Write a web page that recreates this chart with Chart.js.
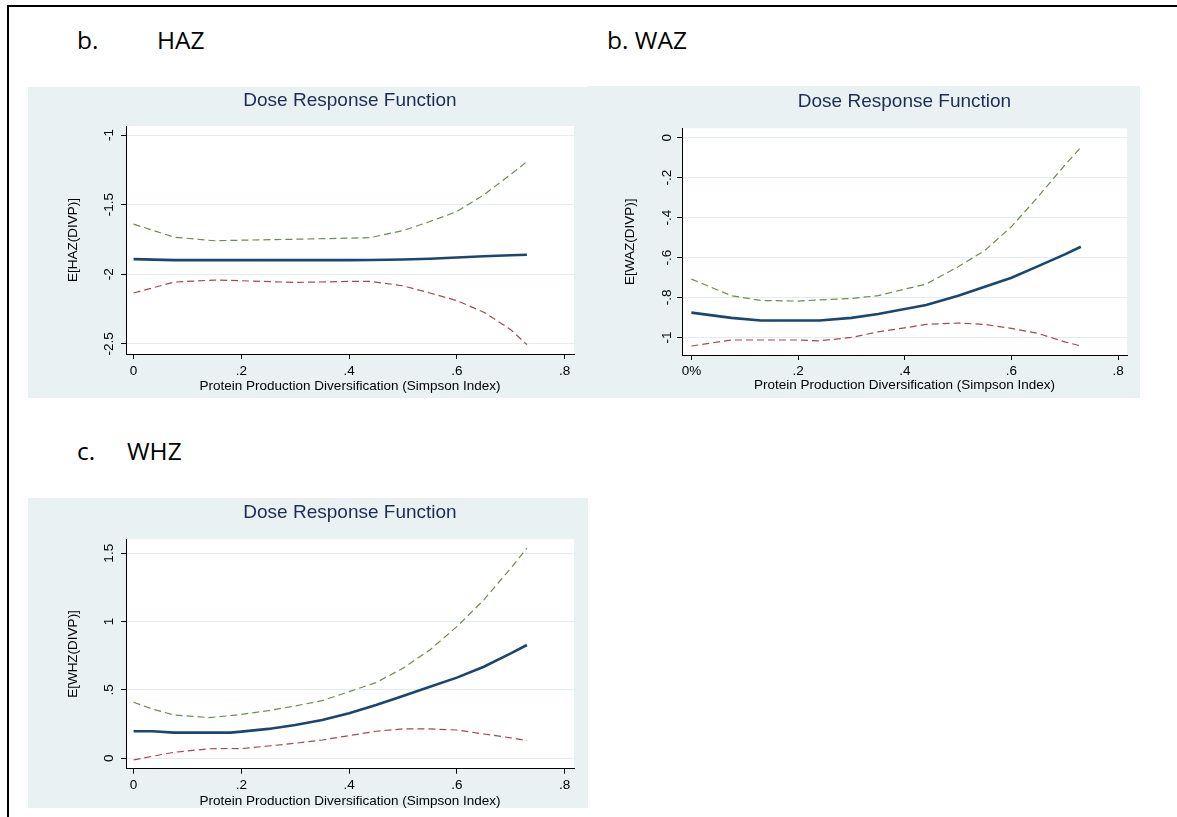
<!DOCTYPE html>
<html>
<head>
<meta charset="utf-8">
<script src="https://cdn.jsdelivr.net/npm/chart.js@4.4.1/dist/chart.umd.min.js"></script>
<style>
  body { margin: 0; background: #fff; width: 1177px; height: 817px; overflow: hidden; position: relative; }
  #frame { position: absolute; left: 7px; top: 5px; width: 1175px; height: 820px; border-top: 2px solid #000; border-left: 2px solid #000; }
  .head { position: absolute; font-family: "Open Sans", sans-serif; font-size: 24.5px; line-height: 24px; color: #000; white-space: nowrap; }
  .panel { position: absolute; background: #e9f1f3; }
</style>
</head>
<body>
<div id="frame"></div>
<div class="head" style="left:77px;top:28px">b.</div>
<div class="head" style="left:157px;top:28px">HAZ</div>
<div class="head" style="left:607px;top:28px">b. WAZ</div>
<div class="head" style="left:77px;top:439px">c.</div>
<div class="head" style="left:127px;top:439px">WHZ</div>

<div class="panel" style="left:28px;top:87px;width:559px;height:311px"><canvas id="haz" width="559" height="311"></canvas></div>
<div class="panel" style="left:587px;top:86px;width:553px;height:312px"><canvas id="waz" width="553" height="312"></canvas></div>
<div class="panel" style="left:28px;top:498px;width:560px;height:310px"><canvas id="whz" width="560" height="310"></canvas></div>

<script>
// HAZ
var hazX     = [0, 0.075, 0.15, 0.2, 0.3, 0.4, 0.44, 0.5, 0.55, 0.6, 0.65, 0.7, 0.73];
var hazDrf   = [-1.891, -1.898, -1.898, -1.898, -1.898, -1.898, -1.897, -1.893, -1.888, -1.879, -1.870, -1.863, -1.859];
var hazUpper = [-1.640, -1.733, -1.759, -1.755, -1.748, -1.740, -1.736, -1.686, -1.621, -1.549, -1.430, -1.282, -1.191];
var hazLower = [-2.134, -2.056, -2.041, -2.046, -2.058, -2.051, -2.051, -2.082, -2.134, -2.189, -2.272, -2.397, -2.505];
var hazYTicks = [-2.5, -2, -1.5, -1];
var hazYLabels = ["-2.5", "-2", "-1.5", "-1"];

// WAZ
var wazX     = [0, 0.075, 0.13, 0.2, 0.24, 0.3, 0.35, 0.4, 0.44, 0.5, 0.55, 0.6, 0.65, 0.7, 0.73];
var wazDrf   = [-0.876, -0.902, -0.915, -0.915, -0.915, -0.902, -0.883, -0.858, -0.838, -0.791, -0.746, -0.701, -0.643, -0.584, -0.546];
var wazUpper = [-0.708, -0.791, -0.815, -0.818, -0.812, -0.805, -0.791, -0.758, -0.733, -0.646, -0.565, -0.445, -0.295, -0.137, -0.048];
var wazLower = [-1.043, -1.013, -1.013, -1.013, -1.017, -1.000, -0.972, -0.952, -0.935, -0.928, -0.935, -0.955, -0.980, -1.022, -1.043];
var wazYTicks = [-1, -0.8, -0.6, -0.4, -0.2, 0];
var wazYLabels = ["-1", "-.8", "-.6", "-.4", "-.2", "0"];

// WHZ
var whzX     = [0, 0.035, 0.075, 0.14, 0.18, 0.2, 0.25, 0.3, 0.35, 0.4, 0.45, 0.5, 0.55, 0.6, 0.65, 0.7, 0.73];
var whzDrf   = [0.198, 0.198, 0.188, 0.188, 0.188, 0.195, 0.215, 0.244, 0.280, 0.329, 0.390, 0.456, 0.524, 0.590, 0.670, 0.768, 0.829];
var whzUpper = [0.410, 0.360, 0.317, 0.298, 0.312, 0.322, 0.349, 0.383, 0.422, 0.488, 0.554, 0.659, 0.793, 0.963, 1.159, 1.390, 1.537];
var whzLower = [-0.012, 0.015, 0.044, 0.070, 0.072, 0.071, 0.090, 0.110, 0.134, 0.166, 0.198, 0.215, 0.215, 0.207, 0.178, 0.150, 0.129];
var whzYTicks = [0, 0.5, 1, 1.5];
var whzYLabels = ["0", ".5", "1", "1.5"];

var xTicks = [0, 0.2, 0.4, 0.6, 0.8];
var xLabels = ["0", ".2", ".4", ".6", ".8"];
var xLabelsPct = ["0%", ".2", ".4", ".6", ".8"];

var FONT = "'Liberation Sans', Arial, sans-serif";
var xTitle = "Protein Production Diversification (Simpson Index)";

function pts(xs, ys) {
  return xs.map(function (x, i) { return { x: x, y: ys[i] }; });
}

var whiteArea = {
  id: 'whiteArea',
  beforeDraw: function (chart) {
    var a = chart.chartArea, ctx = chart.ctx;
    ctx.save();
    ctx.fillStyle = '#ffffff';
    ctx.fillRect(a.left, a.top, a.right - a.left, a.bottom - a.top);
    ctx.restore();
  }
};

function drf(id, o) {
  new Chart(document.getElementById(id), {
    type: 'line',
    data: {
      datasets: [
        { data: pts(o.x, o.upper), borderColor: '#6e8c4c', borderWidth: 1.2, borderDash: [7, 4] },
        { data: pts(o.x, o.lower), borderColor: '#a8474f', borderWidth: 1.2, borderDash: [7, 4] },
        { data: pts(o.x, o.drf), borderColor: '#1a476f', borderWidth: 2.6 }
      ]
    },
    options: {
      responsive: false,
      animation: false,
      events: [],
      elements: { point: { radius: 0 }, line: { tension: 0 } },
      layout: { padding: { left: 0, right: o.padRight, top: 0, bottom: 0 } },
      plugins: {
        legend: { display: false },
        tooltip: { enabled: false },
        title: {
          display: true,
          text: 'Dose Response Function',
          fullSize: false,
          color: '#1c2d55',
          font: { family: FONT, size: 19, weight: 'normal', lineHeight: 1.2 },
          padding: { top: o.titleTop, bottom: o.titleBottom }
        }
      },
      scales: {
        x: {
          type: 'linear',
          min: o.xMin, max: o.xMax,
          afterFit: function (s) { s.height = o.xAxisH; },
          afterBuildTicks: function (s) { s.ticks = xTicks.map(function (v) { return { value: v }; }); },
          ticks: {
            color: '#000', padding: o.xTickPad, maxRotation: 0,
            font: { family: FONT, size: 13.5 },
            callback: function (v, i) { return o.xLabels[i]; }
          },
          grid: { drawOnChartArea: false, tickLength: 5, tickColor: '#000', tickWidth: 1 },
          border: { display: true, color: '#000', width: 1 },
          title: {
            display: true, text: xTitle, color: '#000',
            font: { family: FONT, size: 13.5, lineHeight: 1.2 },
            padding: { top: 0, bottom: o.xTitlePad }
          }
        },
        y: {
          type: 'linear',
          min: o.yMin, max: o.yMax,
          afterFit: function (s) { s.width = o.yAxisW; },
          afterBuildTicks: function (s) { s.ticks = o.yTicks.map(function (v) { return { value: v }; }); },
          ticks: {
            color: '#000', padding: o.yTickPad, minRotation: 90, maxRotation: 90, crossAlign: 'center',
            font: { family: FONT, size: 13.5 },
            callback: function (v, i) { return o.yLabels[i]; }
          },
          grid: { color: '#e3edf0', lineWidth: 1, tickLength: 5, tickColor: '#000', tickWidth: 1 },
          border: { display: true, color: '#000', width: 1 },
          title: {
            display: true, text: o.yTitle, color: '#000',
            font: { family: FONT, size: 13.5, lineHeight: 1.2 },
            padding: { top: o.yTitlePad, bottom: 0 }
          }
        }
      }
    },
    plugins: [whiteArea]
  });
}

drf('haz', {
  x: hazX, drf: hazDrf, upper: hazUpper, lower: hazLower,
  yTicks: hazYTicks, yLabels: hazYLabels, xLabels: xLabels, yTitle: 'E[HAZ(DIVP)]',
  xMin: -0.0141, xMax: 0.8174, yMin: -2.572, yMax: -0.935,
  padRight: 13, yAxisW: 98, xAxisH: 44,
  titleTop: 2.3, titleBottom: 13.9, xTickPad: 3.9, xTitlePad: 3.2, yTitlePad: 37.5, yTickPad: 0
});

drf('waz', {
  x: wazX, drf: wazDrf, upper: wazUpper, lower: wazLower,
  yTicks: wazYTicks, yLabels: wazYLabels, xLabels: xLabelsPct, yTitle: 'E[WAZ(DIVP)]',
  xMin: -0.0176, xMax: 0.8165, yMin: -1.088, yMax: 0.047,
  padRight: 13, yAxisW: 95, xAxisH: 43,
  titleTop: 4.3, titleBottom: 15.2, xTickPad: 2.9, xTitlePad: 4.9, yTitlePad: 35.6, yTickPad: 2.1
});

drf('whz', {
  x: whzX, drf: whzDrf, upper: whzUpper, lower: whzLower,
  yTicks: whzYTicks, yLabels: whzYLabels, xLabels: xLabels, yTitle: 'E[WHZ(DIVP)]',
  xMin: -0.0141, xMax: 0.8174, yMin: -0.076, yMax: 1.602,
  padRight: 14, yAxisW: 98, xAxisH: 39.3,
  titleTop: 3.3, titleBottom: 15.2, xTickPad: 3.2, xTitlePad: -1.8, yTitlePad: 37.5, yTickPad: 2.6
});
</script>
</body>
</html>
